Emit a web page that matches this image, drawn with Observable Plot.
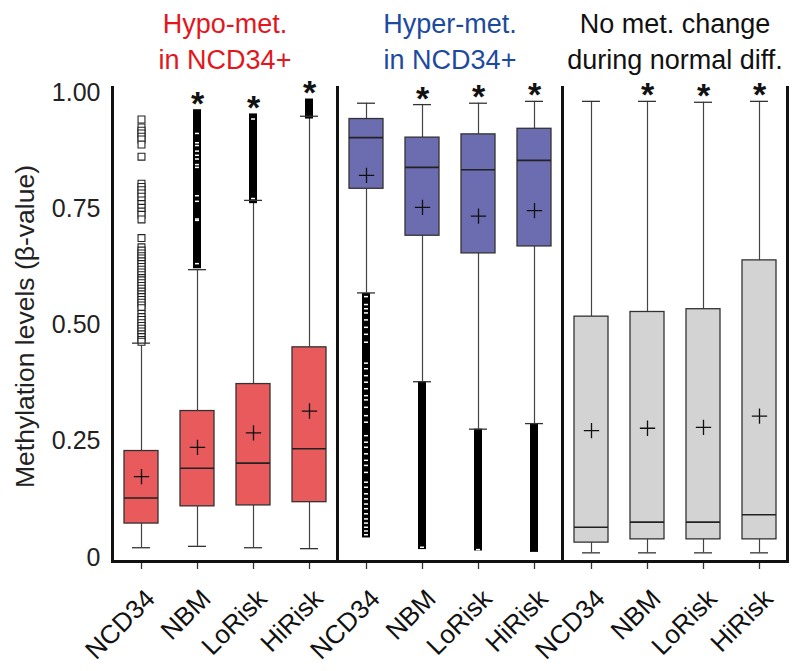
<!DOCTYPE html>
<html><head><meta charset="utf-8">
<script src="https://cdn.jsdelivr.net/npm/d3@7"></script>
<script src="https://cdn.jsdelivr.net/npm/@observablehq/plot@0.6"></script>
<style>body{margin:0;background:#fff;font-family:"Liberation Sans",Arial,sans-serif}</style>
</head><body><div id="chart"></div>
<script>
const groups = ["Hypo", "Hyper", "NoChange"];
const groupTitles = ["Hypo-met.\nin NCD34+", "Hyper-met.\nin NCD34+", "No met. change\nduring normal diff."];
const titleColors = ["#e3161d", "#1d4a9e", "#111111"];
const boxColors = ["#e85a5c", "#6c6cb0", "#d3d3d3"];
const samples = ["NCD34", "NBM", "LoRisk", "HiRisk"];
const yTicks = [0, 0.25, 0.5, 0.75, 1];
const yLabel = "Methylation levels (β-value)";

// [group][sample]
const lowerWhisker = [[0.021,0.024,0.021,0.019],[0.569,0.378,0.276,0.288],[0.010,0.010,0.010,0.010]];
const q1           = [[0.073,0.110,0.112,0.119],[0.793,0.692,0.654,0.669],[0.032,0.039,0.039,0.039]];
const median       = [[0.128,0.192,0.203,0.234],[0.903,0.839,0.834,0.854],[0.065,0.076,0.076,0.092]];
const q3           = [[0.229,0.315,0.373,0.452],[0.943,0.903,0.910,0.922],[0.518,0.528,0.534,0.639]];
const upperWhisker = [[0.461,0.619,0.768,0.949],[0.977,0.974,0.977,0.981],[0.981,0.981,0.979,0.981]];
const mean         = [[0.174,0.237,0.268,0.315],[0.822,0.753,0.734,0.746],[0.273,0.278,0.280,0.304]];
const significant  = [[false,true,true,true],[false,true,true,true],[false,true,true,true]];

// dense (overlapping) outlier runs: [lo, hi] or null
const denseOutliers = [
  [null, [0.621,0.963], [0.761,0.954], [0.943,0.986]],
  [[0.042,0.568], [0.017,0.378], [0.014,0.276], [0.011,0.288]],
  [null, null, null, null]
];
// individually visible outliers (hollow squares), Hypo-met. NCD34
const outliersHypoNCD34 = [0.942,0.925,0.918,0.912,0.905,0.899,0.888,0.862,0.804,0.797,0.790,0.783,0.776,0.768,0.760,0.752,0.744,0.737,0.727,0.687,0.667,0.660,0.654,0.648,0.643,0.637,0.631,0.625,0.619,0.613,0.607,0.601,0.596,0.590,0.584,0.578,0.572,0.566,0.560,0.554,0.548,0.542,0.536,0.524,0.517,0.511,0.504,0.498,0.492,0.486,0.480,0.474,0.468,0.464];
// white gaps visible inside dense outlier runs
const gapsHypoNBM = [0.912,0.892,0.886,0.874,0.865,0.857,0.845,0.839,0.778,0.766,0.728,0.725,0.632];
const gapsHypoLoRisk = [0.943,0.772];
const gapsHyperNCD34 = [0.561,0.544,0.535,0.526,0.511,0.495,0.480,0.463,0.418,0.406,0.391,0.377,0.363,0.348,0.339,0.323,0.305,0.291,0.262,0.248,0.237,0.223,0.209,0.198,0.183,0.162,0.151,0.137,0.126,0.115,0.105,0.094,0.083,0.074,0.065,0.057,0.049];
const gapsHyperNBM = [0.022];
const gapsHyperLoRisk = [0.017];

const boxes = [];
groups.forEach((g, gi) => samples.forEach((s, si) => {
  const dense = denseOutliers[gi][si];
  boxes.push({group: g, sample: s, fill: boxColors[gi],
    lower: lowerWhisker[gi][si], q1: q1[gi][si], median: median[gi][si], q3: q3[gi][si],
    upper: upperWhisker[gi][si], mean: mean[gi][si], sig: significant[gi][si],
    max: Math.max(upperWhisker[gi][si], dense ? dense[1] : 0)});
}));
const denseRows = [];
groups.forEach((g, gi) => samples.forEach((s, si) => {
  const d = denseOutliers[gi][si];
  if (d) denseRows.push({group: g, sample: s, lo: d[0], hi: d[1]});
}));
const sparseRows = outliersHypoNCD34.map(v => ({group: "Hypo", sample: "NCD34", v}));
const gapRows = [
  ...gapsHypoNBM.map(v => ({group: "Hypo", sample: "NBM", v})),
  ...gapsHypoLoRisk.map(v => ({group: "Hypo", sample: "LoRisk", v})),
  ...gapsHyperNCD34.map(v => ({group: "Hyper", sample: "NCD34", v})),
  ...gapsHyperNBM.map(v => ({group: "Hyper", sample: "NBM", v})),
  ...gapsHyperLoRisk.map(v => ({group: "Hyper", sample: "LoRisk", v}))
];
const titleRows = groups.map((g, i) => ({group: g, title: groupTitles[i], color: titleColors[i]}));

const font = "Liberation Sans, Arial, sans-serif";
const plot = Plot.plot({
  width: 800, height: 671,
  marginTop: 87, marginBottom: 110, marginLeft: 112, marginRight: 13,
  style: {fontFamily: font, background: "white", color: "#111"},
  fx: {domain: groups, padding: 0, axis: null, label: null},
  x: {domain: samples, paddingInner: 0.4, paddingOuter: 0.2, axis: null, label: null},
  y: {domain: [-0.0086, 1.0108], axis: null, label: null},
  color: {type: "identity"},
  marks: [
    Plot.axisX({tickSize: 8, tickFormat: () => "", label: null, strokeWidth: 1.3, stroke: "#333"}),
    Plot.axisX({tickRotate: -45, tickSize: 0, tickPadding: 12, fontSize: 26, label: null, fill: "#111", dx: 9, dy: 21}),
    Plot.axisY({ticks: yTicks, tickFormat: d => d === 0 ? "0" : d3.format(".2f")(d), tickSize: 0, tickPadding: 12, fontSize: 25, label: null, fill: "#222", facetAnchor: "left"}),
    Plot.text([yLabel], {fx: () => groups[0], text: d => d, frameAnchor: "left", textAnchor: "middle", rotate: -90, dx: -87, dy: 2, fontSize: 26.5, fill: "#222"}),
    Plot.text(titleRows, {fx: "group", text: "title", fill: "color", frameAnchor: "top", lineAnchor: "bottom", dy: -19, fontSize: 27, lineHeight: 1.3}),
    Plot.ruleX(boxes, {fx: "group", x: "sample", y1: "q3", y2: "upper", stroke: "#444", strokeWidth: 1.2}),
    Plot.ruleX(boxes, {fx: "group", x: "sample", y1: "lower", y2: "q1", stroke: "#444", strokeWidth: 1.2}),
    Plot.barY(denseRows, {fx: "group", x: "sample", y1: "lo", y2: "hi", fill: "#000", insetLeft: 13, insetRight: 13}),
    Plot.tickY(gapRows, {fx: "group", x: "sample", y: "v", stroke: "white", strokeWidth: 1.5, insetLeft: 15, insetRight: 15}),
    Plot.dot(sparseRows, {fx: "group", x: "sample", y: "v", symbol: "square", r: 3.9, stroke: "#222", fill: "white", strokeWidth: 1.1}),
    Plot.tickY(boxes, {fx: "group", x: "sample", y: "upper", stroke: "#333", strokeWidth: 1.3, insetLeft: 8, insetRight: 8}),
    Plot.tickY(boxes, {fx: "group", x: "sample", y: "lower", stroke: "#333", strokeWidth: 1.3, insetLeft: 8, insetRight: 8}),
    Plot.barY(boxes, {fx: "group", x: "sample", y1: "q1", y2: "q3", fill: "fill", stroke: "#333", strokeWidth: 1.3}),
    Plot.tickY(boxes, {fx: "group", x: "sample", y: "median", stroke: "#222", strokeWidth: 1.6}),
    Plot.dot(boxes, {fx: "group", x: "sample", y: "mean", symbol: "plus", r: 5, stroke: "#111", strokeWidth: 1.3}),
    Plot.text(boxes.filter(d => d.sig), {fx: "group", x: "sample", y: "max", text: () => "*", fontSize: 34, fontWeight: "bold", dy: -6, fill: "#111"}),
    Plot.frame({anchor: "left", strokeWidth: 3, stroke: "#111"}),
    Plot.frame({anchor: "right", strokeWidth: 3, stroke: "#111"}),
    Plot.frame({anchor: "bottom", strokeWidth: 3, stroke: "#111"})
  ]
});
document.getElementById("chart").appendChild(plot);
</script>
</body></html>
